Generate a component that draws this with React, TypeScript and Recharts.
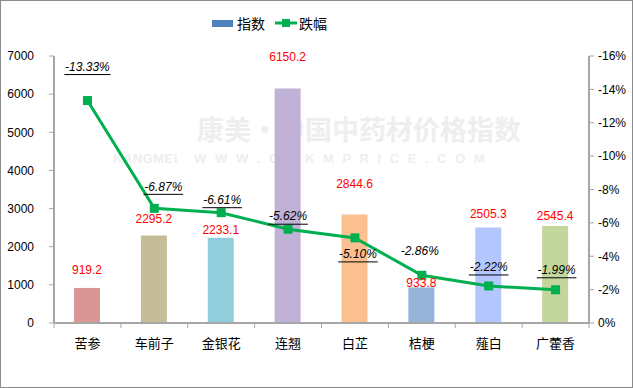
import React from "react";
import {
  ComposedChart,
  Bar,
  Line,
  XAxis,
  YAxis,
  Cell,
  LabelList,
} from "recharts";

const herbs = ["苦参", "车前子", "金银花", "连翘", "白芷", "桔梗", "薤白", "广藿香"];
const indexValues = [919.2, 2295.2, 2233.1, 6150.2, 2844.6, 933.8, 2505.3, 2545.4];
const changeValues = [-13.33, -6.87, -6.61, -5.62, -5.1, -2.86, -2.22, -1.99];
const leftTicks = [0, 1000, 2000, 3000, 4000, 5000, 6000, 7000];
const rightTicks = [0, -2, -4, -6, -8, -10, -12, -14, -16];

// label placement tweaks, px
const valueLabelGap = [17, 16, 7, 31, 30, 4, 13, 9];
const pctLabelDy = [-33, -21, -12, -12, 17, -23, -18, -19];
const pctLabelDx = [0, 9, 1, 0, 3, -2, 0, 1];
const pctUnderline = [true, true, true, true, true, false, true, true];

const barColors = [
  "#DA9694",
  "#C4BD97",
  "#92CDDC",
  "#C0B1D6",
  "#FAC090",
  "#95B3D7",
  "#B4C6FE",
  "#C3D69B",
];
const GREEN = "#00B050";
const AXIS = "#A6A6A6";
const FONT = "'Liberation Sans', Arial, 'Noto Sans CJK SC', sans-serif";
const CJK = "'Noto Sans CJK SC', sans-serif";

const data = herbs.map((name, i) => ({
  name,
  index: indexValues[i],
  change: changeValues[i],
}));

const ValueLabel = (props: any) => {
  const { x, y, width, value, index } = props;
  return (
    <text
      x={x + width / 2}
      y={y - valueLabelGap[index]}
      textAnchor="middle"
      dominantBaseline="middle"
      fill="#FF0000"
      fontSize={12}
      fontFamily={FONT}
    >
      {value.toFixed(1)}
    </text>
  );
};

const PctLabel = (props: any) => {
  const { x, y, value, index } = props;
  const txt = value.toFixed(2) + "%";
  const cx = x + pctLabelDx[index];
  const cy = y + pctLabelDy[index];
  const w = txt.length * 6.6;
  return (
    <g>
      <text
        x={cx}
        y={cy}
        textAnchor="middle"
        dominantBaseline="middle"
        fill="#000"
        fontSize={12}
        fontStyle="italic"
        fontFamily={FONT}
      >
        {txt}
      </text>
      {pctUnderline[index] && (
        <line x1={cx - w / 2} x2={cx + w / 2} y1={cy + 7} y2={cy + 7} stroke="#000" strokeWidth={1} />
      )}
    </g>
  );
};

// category label plus tick marks on the band edges
const CatTick = (props: any) => {
  const { x, y, payload, index } = props;
  const half = payload && payload.offset ? payload.offset : 33.4;
  return (
    <g>
      <line x1={x - half} x2={x - half} y1={y} y2={y + 5} stroke={AXIS} />
      {index === herbs.length - 1 && (
        <line x1={x + half} x2={x + half} y1={y} y2={y + 5} stroke={AXIS} />
      )}
      <text
        x={x}
        y={y + 21}
        textAnchor="middle"
        dominantBaseline="middle"
        fontSize={13}
        fill="#000"
        fontFamily={CJK}
      >
        {payload.value}
      </text>
    </g>
  );
};

const SquareDot = (props: any) => {
  const { cx, cy } = props;
  return <rect x={cx - 4.5} y={cy - 4.5} width={9} height={9} fill={GREEN} />;
};

export default function App() {
  return (
    <div
      style={{
        position: "absolute",
        left: 0,
        top: 0,
        width: 633,
        height: 388,
        border: "1px solid #8C8C8C",
        boxSizing: "border-box",
        background: "#fff",
        overflow: "hidden",
      }}
    >
      {/* faint watermark */}
      <div
        style={{
          position: "absolute",
          left: 196,
          top: 113,
          fontFamily: CJK,
          fontWeight: 700,
          fontSize: 27,
          lineHeight: "30px",
          color: "#EEEEEE",
        }}
      >
        康美·中国中药材价格指数
      </div>
      <div
        style={{
          position: "absolute",
          left: 112,
          top: 150,
          fontFamily: FONT,
          fontWeight: 700,
          fontSize: 13,
          lineHeight: "15px",
          color: "#EEEEEE",
          letterSpacing: 0.5,
          wordSpacing: 4,
        }}
      >
        KANGMEI&nbsp;&nbsp;W W W . C N K M P R I C E . C O M
      </div>

      {/* legend */}
      <div
        style={{
          position: "absolute",
          top: 12,
          left: 211,
          display: "flex",
          alignItems: "center",
          fontFamily: CJK,
          fontSize: 14,
          color: "#000",
        }}
      >
        <span style={{ width: 21, height: 7, background: "#4F81BD", display: "inline-block", marginRight: 4 }} />
        <span style={{ marginRight: 10 }}>指数</span>
        <svg width={22} height={10} style={{ marginRight: 2 }}>
          <line x1={0} x2={22} y1={5} y2={5} stroke={GREEN} strokeWidth={3} />
          <rect x={7} y={1} width={8} height={8} fill={GREEN} />
        </svg>
        <span>跌幅</span>
      </div>

      <div style={{ position: "absolute", left: 0, top: 0 }}>
        <ComposedChart
          width={633}
          height={388}
          data={data}
          margin={{ top: 55, right: 0, bottom: 36, left: 0 }}
        >
          <XAxis
            dataKey="name"
            tickLine={false}
            tickSize={0}
            tickMargin={0}
            axisLine={{ stroke: AXIS, strokeWidth: 2 }}
            tick={<CatTick />}
            interval={0}
            height={30}
          />
          <YAxis
            yAxisId="left"
            domain={[0, 7000]}
            ticks={leftTicks}
            width={53}
            axisLine={{ stroke: AXIS, strokeWidth: 2 }}
            tickLine={{ stroke: AXIS }}
            tickSize={5}
            tickMargin={15}
            tick={{ fontSize: 12, fill: "#000", fontFamily: FONT }}
          />
          <YAxis
            yAxisId="right"
            orientation="right"
            domain={[-16, 0]}
            reversed
            ticks={rightTicks}
            width={45}
            axisLine={{ stroke: AXIS, strokeWidth: 2 }}
            tickLine={{ stroke: AXIS }}
            tickSize={5}
            tickMargin={4}
            tickFormatter={(v: number) => `${v}%`}
            tick={{ fontSize: 12, fill: "#000", fontFamily: FONT }}
          />
          <Bar yAxisId="left" dataKey="index" barSize={26} isAnimationActive={false}>
            {data.map((_, i) => (
              <Cell key={i} fill={barColors[i]} />
            ))}
            <LabelList dataKey="index" content={ValueLabel} />
          </Bar>
          <Line
            yAxisId="right"
            dataKey="change"
            stroke={GREEN}
            strokeWidth={3}
            dot={<SquareDot />}
            activeDot={false}
            isAnimationActive={false}
          >
            <LabelList dataKey="change" content={PctLabel} />
          </Line>
        </ComposedChart>
      </div>
    </div>
  );
}
